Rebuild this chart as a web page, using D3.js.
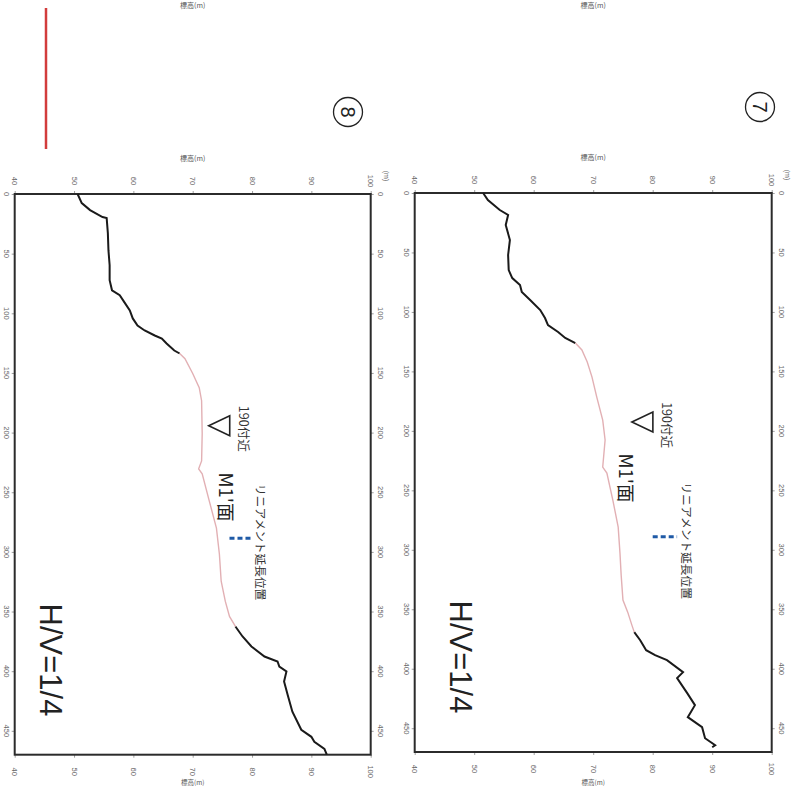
<!DOCTYPE html>
<html><head><meta charset="utf-8">
<script src="https://cdn.jsdelivr.net/npm/d3@7/dist/d3.min.js"></script>
<style>html,body{margin:0;padding:0;background:#fff;}svg{display:block;}</style>
</head><body>
<script>
// ---- data ----
const distTicks = [0,50,100,150,200,250,300,350,400,450];
const elevTicks = [40,50,60,70,80,90,100];
const distDomain = [0,470];
const elevDomain = [40,100];

// profile ⑦
const dist7 = [0,5.9,14.3,18.5,26.9,39.5,52.1,64.8,71.5,77.4,83.3,90.0,98.4,105.1,111.0,116.9,121.9,126.2,
  132.0,142.1,154.8,171.6,190.9,207.7,230.4,235.5,258.2,280.9,302.8,321.3,342.3,352.4,363.3,369.2,
  376.0,384.4,388.6,392.8,402.9,407.9,420.5,430.6,440.7,449.1,458.4,464.3,466.0];
const elev7 = [51.5,52.3,54.3,55.7,55.3,56.0,55.7,55.8,56.4,57.7,58.0,59.4,61.1,61.9,62.4,64.1,65.3,67.0,
  68.1,69.0,69.8,70.6,71.6,72.0,71.6,72.3,73.3,74.2,74.5,74.7,75.0,75.8,76.5,76.9,
  77.9,78.9,80.4,82.4,85.1,84.1,85.8,87.1,85.9,88.3,88.8,90.5,90.0];
const surface7 = [126.2,369.2];      // M1' surface (pink) distance range
const marker7 = {dist:192.6, elev:76.5};
const lineament7 = {dist:289, elev:[80.0,84.1]};

// profile ⑧
const dist8 = [0,7.6,13.5,19.3,20.2,32.8,47.1,59.7,72.3,80.7,84.9,90.8,97.6,104.3,110.2,114.4,118.6,121.1,125.3,131.2,133.7,
  138.0,150.5,162.3,173.3,201.0,223.7,230.4,234.6,257.4,280.1,302.0,324.6,341.5,354.1,362.5,
  370.9,379.3,387.7,391.9,396.1,400.3,408.7,419.7,434.0,449.1,455.0,459.2,465.1,470];
const elev8 = [50.6,51.3,52.7,54.8,55.5,55.7,55.8,56.0,56.0,56.4,57.7,58.5,59.4,59.9,60.7,61.9,63.6,64.8,65.6,66.9,67.8,
  68.7,70.0,71.1,71.5,71.6,71.5,71.0,71.6,72.8,74.0,74.5,74.8,75.5,76.2,77.2,
  78.4,79.9,82.1,84.3,84.6,85.8,85.4,86.0,86.8,88.3,90.0,90.5,92.2,92.6];
const surface8 = [133.7,362.5];
const marker8 = {dist:194.3, elev:72.7};
const lineament8 = {dist:288.5, elev:[76.2,79.9]};

const labels = {hv:"H/V=1/4", near:"190付近", surf:"M1'面", lin:"リニアメント延長位置", axis:"標高(m)", unit:"(m)"};

// ---- drawing ----
const W=802,H=786;
const svg = d3.select("body").append("svg").attr("width",W).attr("height",H);
const jp = "'Noto Sans CJK JP','Noto Sans',sans-serif";
const sans = "'Liberation Sans',Arial,sans-serif";

function rotText(g,x,y,txt,size,opts={}){
  return g.append("text").attr("x",x).attr("y",y)
    .attr("transform",`rotate(90,${x},${y})`)
    .attr("text-anchor",opts.anchor||"middle")
    .attr("dominant-baseline","central")
    .attr("font-family",opts.family||sans)
    .attr("font-size",size)
    .attr("fill",opts.fill||"#222")
    .text(txt);
}

function chart(box, dist, elev, surface, marker, lineament, circ){
  const g = svg.append("g");
  const y = d3.scaleLinear().domain(distDomain).range([box.top, box.bottom]);
  const x = d3.scaleLinear().domain(elevDomain).range([box.left, box.right]);

  const axT = d3.axisTop(x).tickValues(elevTicks).tickSize(3).tickFormat("");
  const axB = d3.axisBottom(x).tickValues(elevTicks).tickSize(3).tickFormat("");
  const axL = d3.axisLeft(y).tickValues(distTicks).tickSize(3).tickFormat("");
  const axR = d3.axisRight(y).tickValues(distTicks).tickSize(3).tickFormat("");
  [[axT,`translate(0,${box.top})`],[axB,`translate(0,${box.bottom})`],
   [axL,`translate(${box.left},0)`],[axR,`translate(${box.right},0)`]].forEach(([a,t])=>{
    const ga = g.append("g").attr("transform",t).call(a);
    ga.select(".domain").remove();
    ga.selectAll("line").attr("stroke","#888").attr("stroke-width",0.8);
  });
  elevTicks.forEach(v=>{
    rotText(g, x(v), box.top-13, v, 7.5, {fill:"#666"});
    rotText(g, x(v), box.bottom+17, v, 7.5, {fill:"#666"});
  });
  distTicks.forEach(v=>{
    rotText(g, box.left-8, y(v), v, 7.5, {fill:"#666"});
    rotText(g, box.right+10, y(v), v, 7.5, {fill:"#666"});
  });

  g.append("rect").attr("x",box.left).attr("y",box.top)
    .attr("width",box.right-box.left).attr("height",box.bottom-box.top)
    .attr("fill","none").attr("stroke","#2b2b2b").attr("stroke-width",2);

  const pts = dist.map((d,i)=>[d,elev[i]]);
  const line = d3.line().x(p=>x(p[1])).y(p=>y(p[0])).curve(d3.curveLinear);
  const seg1 = pts.filter(p=>p[0]<=surface[0]);
  const seg2 = pts.filter(p=>p[0]>=surface[0]&&p[0]<=surface[1]);
  const seg3 = pts.filter(p=>p[0]>=surface[1]);
  g.append("path").attr("d",line(seg1)).attr("fill","none").attr("stroke","#1a1a1a").attr("stroke-width",2);
  g.append("path").attr("d",line(seg3)).attr("fill","none").attr("stroke","#1a1a1a").attr("stroke-width",2);
  g.append("path").attr("d",line(seg2)).attr("fill","none").attr("stroke","#e2b0b4").attr("stroke-width",1.4);

  const mx = x(marker.elev), my = y(marker.dist);
  g.append("path").attr("d",`M${mx},${my} L${mx+21},${my-10} L${mx+21},${my+10} Z`)
    .attr("fill","none").attr("stroke","#222").attr("stroke-width",1.6);
  rotText(g, mx+36, my+3, labels.near, 12.5, {family:jp, fill:"#333"});

  const ly = y(lineament.dist);
  g.append("line").attr("x1",x(lineament.elev[0])).attr("x2",x(lineament.elev[1]))
    .attr("y1",ly).attr("y2",ly).attr("stroke","#1f5aa6").attr("stroke-width",3)
    .attr("stroke-dasharray","5,3");
  rotText(g, x(lineament.elev[1])+10, ly+4, labels.lin, 11.7, {family:jp, fill:"#333"});

  rotText(g, box.surfX, box.surfY, labels.surf, 18.5, {family:jp, fill:"#222"});
  rotText(g, box.hvX, box.hvY, labels.hv, 31, {fill:"#222"});

  const cx = (box.left+box.right)/2;
  g.append("text").attr("x",cx).attr("y",box.top-33)
    .attr("text-anchor","middle").attr("font-family",jp).attr("font-size",7).attr("fill","#555").text(labels.axis);
  g.append("text").attr("x",cx).attr("y",H-1.5)
    .attr("text-anchor","middle").attr("font-family",jp).attr("font-size",6.5).attr("fill","#555").text(labels.axis);
  g.append("text").attr("x",cx).attr("y",8)
    .attr("text-anchor","middle").attr("font-family",jp).attr("font-size",7).attr("fill","#555").text(labels.axis);
  rotText(g, box.right+16, box.top-18, labels.unit, 7, {fill:"#666"});

  svg.append("circle").attr("cx",circ.x).attr("cy",circ.y).attr("r",14.5)
    .attr("fill","none").attr("stroke","#222").attr("stroke-width",1.3);
  rotText(svg, circ.x, circ.y, circ.t, 20, {fill:"#222"});
}

chart({left:414.7,right:771.7,top:193,bottom:752, surfX:627, surfY:478, hvX:460, hvY:657},
  dist7, elev7, surface7, marker7, lineament7, {x:760,y:107,t:"7"});
chart({left:14.7,right:370.7,top:194,bottom:754.7, surfX:227, surfY:497, hvX:50, hvY:660},
  dist8, elev8, surface8, marker8, lineament8, {x:348,y:112,t:"8"});

svg.append("line").attr("x1",46).attr("x2",46).attr("y1",8).attr("y2",149)
  .attr("stroke","#d23c3c").attr("stroke-width",2.5);
</script>
</body></html>
